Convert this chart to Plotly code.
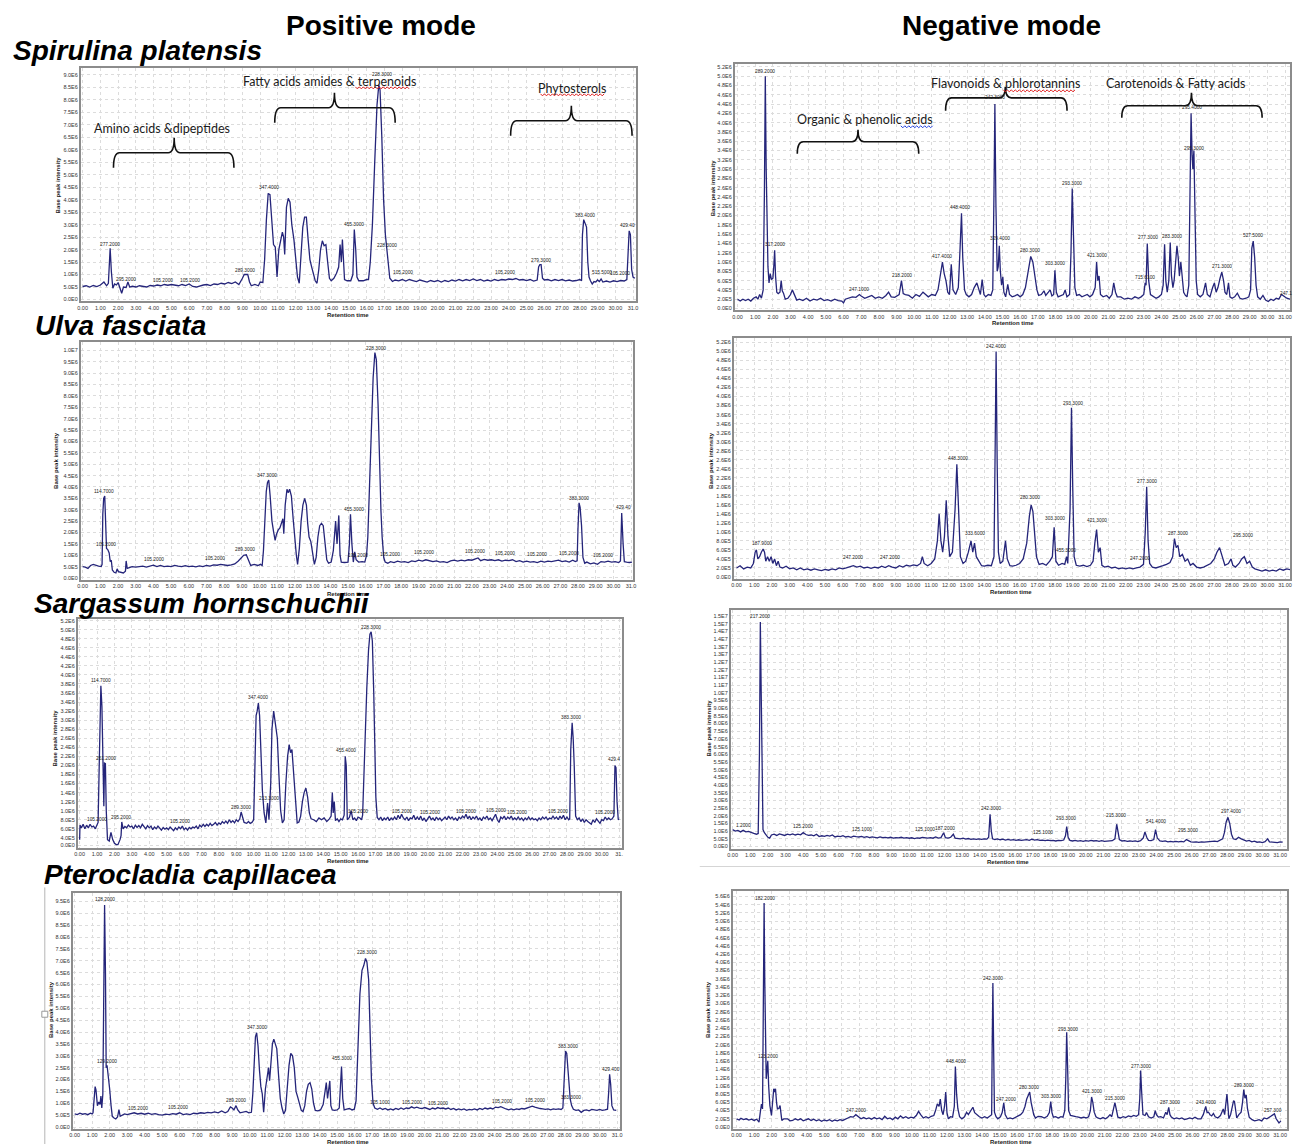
import plotly.graph_objects as go

W, H = 1293, 1145

# ---------------- DATA (retention time in min, base-peak intensity in units of 1e6) ----------------
SPIR_POS = [(0.0,0.52),(0.2,0.55),(0.4,0.5),(0.6,0.56),(0.8,0.52),(1.0,0.58),(1.2,0.7),(1.35,0.55),(1.45,0.65),(1.55,2.05),(1.62,1.1),(1.7,0.45),(1.8,0.62),(1.9,0.58),(2.0,0.68),(2.1,0.42),(2.2,0.25),(2.3,0.5),(2.45,0.48),(2.55,0.7),(2.65,0.5),(2.8,0.53),(3.0,0.5),(3.2,0.55),(3.4,0.52),(3.6,0.5),(3.8,0.56),(4.0,0.54),(4.2,0.58),(4.4,0.55),(4.6,0.6),(4.8,0.57),(5.0,0.6),(5.2,0.58),(5.4,0.55),(5.6,0.6),(5.8,0.56),(6.0,0.62),(6.2,0.52),(6.4,0.5),(6.6,0.55),(6.8,0.58),(7.0,0.6),(7.2,0.56),(7.4,0.62),(7.6,0.6),(7.8,0.65),(8.0,0.62),(8.2,0.68),(8.4,0.64),(8.6,0.7),(8.8,0.6),(9.0,0.85),(9.1,1.0),(9.3,1.0),(9.4,0.7),(9.5,0.55),(9.7,0.6),(9.9,0.55),(10.0,0.7),(10.15,0.68),(10.25,1.6),(10.35,3.2),(10.45,4.25),(10.55,4.2),(10.65,3.2),(10.75,2.2),(10.85,2.1),(10.95,0.9),(11.05,2.0),(11.15,2.3),(11.25,2.7),(11.32,2.5),(11.38,1.8),(11.48,3.7),(11.58,4.05),(11.68,3.9),(11.78,3.0),(11.9,2.4),(12.0,1.6),(12.1,0.9),(12.2,0.65),(12.3,1.8),(12.4,2.9),(12.5,3.3),(12.6,3.3),(12.7,2.4),(12.8,1.6),(12.9,1.3),(13.0,1.0),(13.1,0.75),(13.2,0.65),(13.3,1.2),(13.4,2.0),(13.5,2.35),(13.6,2.15),(13.7,2.2),(13.8,1.5),(13.9,0.85),(14.0,0.75),(14.15,0.85),(14.3,1.05),(14.42,1.3),(14.5,2.2),(14.57,1.5),(14.63,2.4),(14.7,1.5),(14.75,0.8),(14.9,0.75),(15.1,0.75),(15.22,1.0),(15.3,2.8),(15.38,2.0),(15.45,0.9),(15.55,0.75),(15.8,0.75),(16.0,0.8),(16.1,0.8),(16.2,1.5),(16.32,3.0),(16.45,5.5),(16.58,7.8),(16.68,8.6),(16.75,8.4),(16.85,6.5),(16.95,4.0),(17.05,2.6),(17.12,2.1),(17.22,1.2),(17.3,0.85),(17.45,0.72),(17.6,0.78),(17.8,0.75),(18.0,0.8),(18.2,0.74),(18.4,0.8),(18.6,0.76),(18.8,0.72),(19.0,0.78),(19.2,0.74),(19.4,0.7),(19.6,0.76),(19.8,0.72),(20.0,0.76),(20.2,0.7),(20.4,0.76),(20.6,0.72),(20.8,0.78),(21.0,0.74),(21.2,0.8),(21.4,0.75),(21.6,0.8),(21.8,0.76),(22.0,0.82),(22.2,0.76),(22.4,0.8),(22.6,0.74),(22.8,0.78),(23.0,0.74),(23.2,0.8),(23.4,0.76),(23.6,0.8),(23.8,0.78),(24.0,0.82),(24.2,0.8),(24.4,0.84),(24.6,0.78),(24.8,0.8),(25.0,0.76),(25.2,0.8),(25.4,0.74),(25.6,0.78),(25.68,1.3),(25.75,1.4),(25.82,1.4),(25.9,0.85),(26.0,0.78),(26.2,0.8),(26.4,0.75),(26.6,0.8),(26.8,0.76),(27.0,0.8),(27.2,0.75),(27.4,0.78),(27.6,0.74),(27.8,0.76),(28.0,0.8),(28.1,0.75),(28.15,2.6),(28.22,3.2),(28.3,3.0),(28.38,2.9),(28.45,1.5),(28.52,0.9),(28.6,0.75),(28.7,0.62),(28.8,0.72),(28.9,0.7),(29.0,0.78),(29.1,0.72),(29.2,0.82),(29.3,0.7),(29.5,0.74),(29.7,0.7),(29.9,0.75),(30.1,0.72),(30.3,0.76),(30.5,0.74),(30.65,0.8),(30.72,2.0),(30.78,2.75),(30.85,2.6),(30.92,1.2),(31.0,0.9),(31.1,0.85)]

SPIR_NEG = [(0.0,0.2),(0.15,0.16),(0.3,0.2),(0.45,0.17),(0.6,0.2),(0.75,0.16),(0.9,0.22),(1.05,0.25),(1.15,0.2),(1.25,0.3),(1.35,0.22),(1.45,0.4),(1.52,2.5),(1.57,5.0),(1.62,3.0),(1.68,1.5),(1.72,0.9),(1.78,0.55),(1.85,0.75),(1.92,0.62),(2.0,0.65),(2.05,0.9),(2.1,1.25),(2.15,0.7),(2.22,0.35),(2.3,0.32),(2.4,0.35),(2.47,0.6),(2.53,0.38),(2.6,0.33),(2.7,0.2),(2.85,0.22),(3.0,0.3),(3.1,0.4),(3.2,0.3),(3.35,0.18),(3.5,0.2),(3.7,0.17),(3.9,0.22),(4.1,0.16),(4.3,0.2),(4.5,0.18),(4.7,0.22),(4.9,0.17),(5.1,0.19),(5.3,0.16),(5.5,0.2),(5.7,0.17),(5.9,0.16),(6.0,0.12),(6.1,0.2),(6.3,0.22),(6.5,0.25),(6.7,0.24),(6.9,0.3),(7.0,0.27),(7.2,0.22),(7.4,0.25),(7.6,0.28),(7.8,0.22),(8.0,0.25),(8.2,0.22),(8.4,0.28),(8.55,0.35),(8.7,0.25),(8.9,0.24),(9.05,0.28),(9.15,0.3),(9.28,0.6),(9.38,0.32),(9.5,0.3),(9.7,0.28),(9.9,0.22),(10.1,0.3),(10.3,0.26),(10.5,0.35),(10.65,0.3),(10.8,0.25),(11.0,0.3),(11.2,0.28),(11.35,0.4),(11.5,0.75),(11.6,1.0),(11.7,0.75),(11.8,0.6),(11.9,0.35),(12.0,0.3),(12.1,0.95),(12.2,0.4),(12.35,0.3),(12.5,0.45),(12.6,1.3),(12.68,2.05),(12.75,1.1),(12.85,0.4),(12.95,0.3),(13.1,0.25),(13.25,0.3),(13.4,0.45),(13.55,0.55),(13.65,0.4),(13.75,0.3),(13.85,0.62),(13.95,0.3),(14.05,0.25),(14.2,0.3),(14.35,0.28),(14.45,0.4),(14.52,2.5),(14.57,4.4),(14.63,2.2),(14.7,0.8),(14.76,0.9),(14.82,1.35),(14.88,0.8),(14.95,0.5),(15.02,0.68),(15.08,0.35),(15.18,0.25),(15.3,0.52),(15.4,0.3),(15.55,0.25),(15.7,0.27),(15.85,0.3),(16.0,0.25),(16.15,0.3),(16.3,0.45),(16.45,0.8),(16.6,1.12),(16.72,1.0),(16.85,0.7),(16.95,0.4),(17.05,0.28),(17.2,0.3),(17.35,0.38),(17.45,0.28),(17.6,0.35),(17.7,0.4),(17.8,0.27),(17.9,0.3),(17.97,0.82),(18.05,0.35),(18.15,0.25),(18.3,0.28),(18.45,0.3),(18.55,0.4),(18.65,0.25),(18.8,0.3),(18.88,1.2),(18.95,2.58),(19.02,1.5),(19.1,0.45),(19.2,0.28),(19.35,0.3),(19.5,0.25),(19.65,0.28),(19.8,0.3),(19.95,0.25),(20.1,0.3),(20.25,0.45),(20.33,1.0),(20.4,0.6),(20.47,0.7),(20.55,0.3),(20.7,0.25),(20.9,0.28),(21.05,0.22),(21.2,0.3),(21.3,0.55),(21.4,0.35),(21.5,0.25),(21.7,0.25),(21.9,0.2),(22.1,0.22),(22.3,0.2),(22.5,0.25),(22.7,0.22),(22.85,0.25),(23.0,0.3),(23.08,0.55),(23.13,0.5),(23.2,1.4),(23.28,0.6),(23.38,0.3),(23.55,0.25),(23.7,0.22),(23.85,0.25),(24.0,0.3),(24.1,0.5),(24.18,1.38),(24.25,0.6),(24.33,0.35),(24.42,0.6),(24.5,1.42),(24.57,0.7),(24.65,0.45),(24.72,0.6),(24.8,1.0),(24.88,1.35),(24.95,1.1),(25.02,0.7),(25.1,1.0),(25.18,0.6),(25.26,0.35),(25.36,0.28),(25.45,0.25),(25.55,0.5),(25.62,2.5),(25.68,4.2),(25.74,3.3),(25.78,3.0),(25.84,3.4),(25.9,2.0),(25.97,0.6),(26.05,0.3),(26.2,0.25),(26.35,0.3),(26.5,0.55),(26.6,0.3),(26.75,0.25),(26.9,0.45),(27.0,0.55),(27.1,0.35),(27.2,0.45),(27.32,0.65),(27.42,0.78),(27.52,0.6),(27.6,0.35),(27.7,0.3),(27.8,0.55),(27.88,0.25),(28.0,0.22),(28.15,0.25),(28.3,0.33),(28.45,0.22),(28.6,0.2),(28.8,0.22),(28.95,0.25),(29.05,0.4),(29.12,1.3),(29.2,1.45),(29.28,1.1),(29.36,0.5),(29.45,0.25),(29.6,0.2),(29.75,0.28),(29.9,0.18),(30.05,0.15),(30.2,0.2),(30.35,0.17),(30.5,0.22),(30.65,0.2),(30.8,0.3),(30.95,0.25),(31.1,0.22),(31.3,0.2)]

ULVA_POS = [(0.0,0.5),(0.15,0.48),(0.3,0.42),(0.45,0.55),(0.6,0.6),(0.75,0.55),(0.9,0.52),(1.05,0.5),(1.1,0.6),(1.14,2.8),(1.19,3.5),(1.25,3.6),(1.3,2.6),(1.35,1.3),(1.42,1.25),(1.5,1.1),(1.56,0.72),(1.62,0.78),(1.68,0.35),(1.78,0.25),(1.88,0.22),(1.95,0.4),(2.02,0.28),(2.15,0.25),(2.3,0.22),(2.42,0.3),(2.46,0.75),(2.52,0.42),(2.65,0.45),(2.8,0.5),(3.0,0.48),(3.2,0.5),(3.4,0.52),(3.6,0.48),(3.8,0.52),(4.0,0.56),(4.2,0.5),(4.4,0.55),(4.6,0.5),(4.8,0.52),(5.0,0.5),(5.2,0.55),(5.4,0.52),(5.6,0.5),(5.8,0.54),(6.0,0.5),(6.2,0.52),(6.4,0.49),(6.6,0.53),(6.8,0.5),(7.0,0.55),(7.2,0.52),(7.4,0.58),(7.6,0.56),(7.8,0.6),(8.0,0.57),(8.2,0.55),(8.4,0.58),(8.6,0.62),(8.8,0.75),(8.95,0.9),(9.1,1.0),(9.25,1.02),(9.38,0.8),(9.5,0.55),(9.7,0.6),(9.9,0.55),(10.05,0.6),(10.15,0.55),(10.22,1.2),(10.3,2.8),(10.38,3.8),(10.45,4.2),(10.52,4.3),(10.6,3.6),(10.7,2.5),(10.8,2.0),(10.88,1.65),(10.95,1.9),(11.05,2.1),(11.15,2.2),(11.25,2.4),(11.32,2.6),(11.37,1.95),(11.45,3.2),(11.55,3.9),(11.62,3.75),(11.7,3.9),(11.8,3.6),(11.9,2.6),(12.0,1.6),(12.08,1.0),(12.15,0.6),(12.25,1.3),(12.35,2.5),(12.45,3.2),(12.55,3.5),(12.65,3.2),(12.72,2.4),(12.8,1.8),(12.9,1.6),(13.0,1.0),(13.1,0.6),(13.2,0.9),(13.3,1.8),(13.4,2.3),(13.5,2.4),(13.6,2.3),(13.7,1.6),(13.8,0.8),(13.9,0.65),(14.05,0.7),(14.17,1.2),(14.3,2.5),(14.38,1.5),(14.48,2.75),(14.55,1.0),(14.62,0.7),(14.8,0.68),(15.0,0.7),(15.08,1.5),(15.14,2.8),(15.22,1.5),(15.3,0.7),(15.38,1.15),(15.46,0.8),(15.6,0.7),(15.8,0.72),(15.95,0.7),(16.05,1.0),(16.12,1.8),(16.22,4.0),(16.32,6.6),(16.42,8.8),(16.52,9.9),(16.6,9.6),(16.7,7.6),(16.78,5.0),(16.86,3.0),(16.93,1.8),(17.02,0.9),(17.1,0.7),(17.25,0.65),(17.4,0.72),(17.6,0.68),(17.8,0.74),(18.0,0.7),(18.2,0.72),(18.4,0.68),(18.6,0.75),(18.8,0.72),(19.0,0.78),(19.2,0.74),(19.4,0.8),(19.6,0.76),(19.8,0.72),(20.0,0.75),(20.2,0.7),(20.4,0.72),(20.6,0.68),(20.8,0.75),(21.0,0.78),(21.2,0.74),(21.4,0.78),(21.6,0.75),(21.8,0.8),(22.0,0.78),(22.2,0.82),(22.35,0.88),(22.5,0.76),(22.7,0.82),(22.9,0.78),(23.1,0.8),(23.3,0.76),(23.5,0.8),(23.7,0.74),(23.9,0.78),(24.1,0.76),(24.3,0.8),(24.5,0.72),(24.7,0.76),(24.9,0.7),(25.1,0.74),(25.3,0.7),(25.5,0.72),(25.7,0.68),(25.9,0.74),(26.1,0.7),(26.3,0.74),(26.5,0.72),(26.7,0.76),(26.9,0.78),(27.1,0.72),(27.3,0.75),(27.5,0.7),(27.7,0.78),(27.85,0.72),(27.95,0.75),(28.0,2.2),(28.06,3.3),(28.12,3.1),(28.2,2.3),(28.28,0.9),(28.38,0.65),(28.5,0.7),(28.7,0.62),(28.9,0.66),(29.1,0.6),(29.3,0.72),(29.5,0.7),(29.7,0.74),(29.9,0.7),(30.1,0.72),(30.3,0.68),(30.4,0.75),(30.47,2.85),(30.55,1.5),(30.62,0.72),(30.75,0.7),(30.9,0.68),(31.05,0.7)]

ULVA_NEG = [(0.0,0.2),(0.2,0.25),(0.4,0.18),(0.6,0.22),(0.8,0.2),(0.95,0.3),(1.05,0.55),(1.12,0.6),(1.2,0.4),(1.3,0.45),(1.4,0.55),(1.5,0.62),(1.58,0.55),(1.65,0.35),(1.75,0.45),(1.85,0.35),(1.95,0.45),(2.05,0.3),(2.15,0.4),(2.25,0.25),(2.35,0.35),(2.45,0.22),(2.6,0.2),(2.8,0.24),(3.0,0.18),(3.2,0.2),(3.4,0.16),(3.6,0.2),(3.8,0.16),(4.0,0.18),(4.2,0.15),(4.4,0.18),(4.6,0.16),(4.8,0.14),(5.0,0.17),(5.2,0.15),(5.4,0.18),(5.6,0.16),(5.8,0.2),(6.0,0.18),(6.2,0.2),(6.4,0.22),(6.6,0.25),(6.8,0.22),(7.0,0.24),(7.2,0.2),(7.4,0.22),(7.6,0.19),(7.8,0.22),(8.0,0.2),(8.2,0.24),(8.4,0.21),(8.6,0.25),(8.8,0.22),(9.0,0.2),(9.2,0.25),(9.4,0.22),(9.6,0.26),(9.8,0.24),(10.0,0.27),(10.2,0.25),(10.4,0.3),(10.5,0.45),(10.6,0.3),(10.8,0.25),(11.0,0.3),(11.2,0.4),(11.35,0.8),(11.45,1.4),(11.55,0.8),(11.65,0.55),(11.75,0.9),(11.85,1.7),(11.95,0.9),(12.05,0.45),(12.2,0.55),(12.35,1.5),(12.45,2.5),(12.55,1.3),(12.65,0.45),(12.8,0.3),(12.95,0.35),(13.1,0.55),(13.25,0.8),(13.35,0.55),(13.45,0.75),(13.55,0.45),(13.7,0.35),(13.85,0.25),(14.0,0.24),(14.2,0.26),(14.4,0.25),(14.55,0.45),(14.62,3.0),(14.67,5.0),(14.73,2.5),(14.8,0.55),(14.9,0.3),(15.05,0.35),(15.2,0.8),(15.3,0.4),(15.45,0.25),(15.6,0.24),(15.8,0.26),(16.0,0.3),(16.2,0.4),(16.4,0.75),(16.55,1.35),(16.65,1.6),(16.75,1.45),(16.85,0.95),(16.95,0.45),(17.1,0.28),(17.3,0.3),(17.5,0.26),(17.7,0.35),(17.85,0.45),(17.95,1.1),(18.05,0.35),(18.2,0.26),(18.4,0.3),(18.55,0.28),(18.65,0.45),(18.72,0.3),(18.85,1.5),(18.93,3.75),(19.0,2.0),(19.08,0.45),(19.2,0.26),(19.4,0.24),(19.6,0.26),(19.8,0.23),(20.0,0.26),(20.15,0.35),(20.25,0.75),(20.35,1.05),(20.45,0.55),(20.55,0.65),(20.65,0.26),(20.8,0.22),(21.0,0.24),(21.2,0.2),(21.4,0.22),(21.6,0.18),(21.8,0.2),(22.0,0.18),(22.2,0.2),(22.4,0.18),(22.6,0.2),(22.8,0.22),(23.0,0.28),(23.1,1.0),(23.18,2.0),(23.26,0.8),(23.35,0.3),(23.5,0.22),(23.7,0.2),(23.9,0.22),(24.1,0.25),(24.3,0.28),(24.5,0.32),(24.65,0.45),(24.75,0.85),(24.85,0.65),(24.95,0.7),(25.05,0.45),(25.2,0.5),(25.35,0.35),(25.5,0.4),(25.65,0.26),(25.8,0.3),(26.0,0.22),(26.2,0.2),(26.4,0.22),(26.6,0.26),(26.8,0.3),(27.0,0.4),(27.15,0.55),(27.3,0.65),(27.45,0.45),(27.6,0.26),(27.8,0.3),(27.95,0.4),(28.05,0.26),(28.2,0.22),(28.4,0.3),(28.55,0.4),(28.7,0.45),(28.85,0.3),(29.0,0.35),(29.15,0.22),(29.3,0.18),(29.5,0.16),(29.7,0.13),(29.9,0.16),(30.1,0.13),(30.3,0.15),(30.5,0.13),(30.7,0.18),(30.9,0.15),(31.1,0.18),(31.3,0.16)]

SARG_POS = [(0.0,0.36),(0.02,0.68),(0.1,0.62),(0.2,0.7),(0.3,0.6),(0.4,0.68),(0.5,0.62),(0.6,0.7),(0.7,0.64),(0.8,0.66),(0.9,0.6),(1.0,0.72),(1.06,0.74),(1.12,1.9),(1.17,3.2),(1.22,3.76),(1.28,3.3),(1.34,2.0),(1.39,1.1),(1.43,2.05),(1.48,2.04),(1.53,1.0),(1.6,0.36),(1.7,0.33),(1.8,0.52),(1.9,0.36),(2.0,0.28),(2.1,0.25),(2.2,0.25),(2.32,0.36),(2.38,0.45),(2.42,0.75),(2.5,0.6),(2.6,0.65),(2.7,0.62),(2.8,0.68),(2.9,0.64),(3.0,0.66),(3.1,0.6),(3.2,0.68),(3.3,0.63),(3.4,0.67),(3.5,0.62),(3.6,0.7),(3.7,0.64),(3.8,0.6),(3.9,0.67),(4.0,0.62),(4.1,0.66),(4.2,0.58),(4.3,0.64),(4.4,0.6),(4.5,0.66),(4.6,0.6),(4.7,0.57),(4.8,0.63),(4.9,0.59),(5.0,0.62),(5.1,0.58),(5.2,0.64),(5.3,0.6),(5.4,0.56),(5.5,0.62),(5.6,0.58),(5.7,0.64),(5.8,0.6),(5.9,0.66),(6.0,0.58),(6.1,0.62),(6.2,0.57),(6.3,0.63),(6.4,0.6),(6.5,0.64),(6.6,0.62),(6.7,0.66),(6.8,0.6),(6.9,0.68),(7.0,0.64),(7.1,0.7),(7.2,0.65),(7.3,0.7),(7.4,0.66),(7.5,0.72),(7.6,0.67),(7.7,0.7),(7.8,0.74),(7.9,0.68),(8.0,0.73),(8.1,0.7),(8.2,0.76),(8.3,0.72),(8.4,0.77),(8.5,0.72),(8.6,0.8),(8.7,0.74),(8.8,0.78),(8.9,0.73),(9.0,0.8),(9.1,0.76),(9.2,0.82),(9.28,0.97),(9.35,0.85),(9.45,0.74),(9.6,0.72),(9.7,0.76),(9.8,0.72),(9.9,0.74),(10.0,0.8),(10.08,2.4),(10.14,3.1),(10.2,3.2),(10.27,3.38),(10.34,3.1),(10.42,2.2),(10.5,1.45),(10.6,0.95),(10.7,0.73),(10.8,1.17),(10.88,0.8),(10.98,1.6),(11.05,2.8),(11.15,3.2),(11.22,2.95),(11.3,2.8),(11.36,2.6),(11.45,1.8),(11.55,1.0),(11.65,0.73),(11.75,0.8),(11.85,1.6),(11.95,2.2),(12.04,2.46),(12.12,2.28),(12.2,2.35),(12.3,1.8),(12.4,1.1),(12.5,0.73),(12.6,0.75),(12.7,0.88),(12.8,1.2),(12.9,1.4),(13.0,1.5),(13.1,1.3),(13.2,0.95),(13.3,0.82),(13.45,0.8),(13.6,0.76),(13.75,0.84),(13.9,0.8),(14.05,0.84),(14.2,0.76),(14.35,0.82),(14.45,0.88),(14.52,1.4),(14.57,0.95),(14.63,1.2),(14.7,0.78),(14.8,0.82),(14.9,0.76),(15.0,0.82),(15.1,0.8),(15.2,0.9),(15.26,2.2),(15.32,2.0),(15.38,0.8),(15.5,0.85),(15.6,1.0),(15.7,0.8),(15.8,0.84),(15.9,0.78),(16.0,0.86),(16.1,0.84),(16.2,0.8),(16.26,0.9),(16.33,1.76),(16.42,3.0),(16.5,3.7),(16.6,4.55),(16.68,4.9),(16.75,4.95),(16.82,4.75),(16.9,3.6),(16.96,2.4),(17.02,1.3),(17.1,0.85),(17.2,0.8),(17.3,0.86),(17.4,0.78),(17.5,0.84),(17.6,0.8),(17.7,0.86),(17.8,0.78),(17.9,0.84),(18.0,0.8),(18.1,0.86),(18.2,0.8),(18.3,0.9),(18.4,0.82),(18.5,0.92),(18.6,0.84),(18.7,0.8),(18.8,0.86),(18.9,0.78),(19.0,0.84),(19.1,0.82),(19.2,0.9),(19.3,0.8),(19.4,0.86),(19.5,0.8),(19.6,0.88),(19.7,0.78),(19.8,0.84),(19.9,0.76),(20.0,0.82),(20.1,0.88),(20.2,0.8),(20.3,0.84),(20.4,0.78),(20.5,0.86),(20.6,0.8),(20.7,0.84),(20.8,0.78),(20.9,0.82),(21.0,0.86),(21.1,0.8),(21.2,0.88),(21.3,0.82),(21.4,0.86),(21.5,0.8),(21.6,0.84),(21.7,0.78),(21.8,0.86),(21.9,0.82),(22.0,0.88),(22.1,0.84),(22.2,0.92),(22.3,0.82),(22.4,0.88),(22.5,0.8),(22.6,0.86),(22.7,0.82),(22.8,0.88),(22.9,0.8),(23.0,0.84),(23.1,0.78),(23.2,0.86),(23.3,0.82),(23.4,0.88),(23.5,0.8),(23.6,0.84),(23.7,0.78),(23.8,0.86),(23.9,0.92),(24.0,0.8),(24.1,0.74),(24.2,0.86),(24.3,0.82),(24.4,0.88),(24.5,0.8),(24.6,0.86),(24.7,0.82),(24.8,0.88),(24.9,0.8),(25.0,0.84),(25.1,0.8),(25.2,0.86),(25.3,0.8),(25.4,0.84),(25.5,0.78),(25.6,0.84),(25.7,0.8),(25.8,0.86),(25.9,0.8),(26.0,0.84),(26.1,0.8),(26.2,0.82),(26.3,0.78),(26.4,0.84),(26.5,0.8),(26.6,0.86),(26.7,0.82),(26.8,0.86),(26.9,0.8),(27.0,0.84),(27.1,0.82),(27.2,0.88),(27.3,0.82),(27.4,0.86),(27.5,0.8),(27.6,0.88),(27.7,0.82),(27.8,0.9),(27.9,0.8),(28.0,0.86),(28.1,0.8),(28.16,0.82),(28.22,2.35),(28.3,2.94),(28.36,2.6),(28.42,2.0),(28.5,0.88),(28.6,0.8),(28.7,0.84),(28.8,0.76),(28.9,0.82),(29.0,0.74),(29.1,0.8),(29.2,0.76),(29.3,0.72),(29.4,0.7),(29.5,0.8),(29.6,0.74),(29.7,0.82),(29.8,0.76),(29.9,0.72),(30.0,0.8),(30.1,0.78),(30.2,0.86),(30.3,0.8),(30.4,0.84),(30.5,0.8),(30.6,0.82),(30.7,0.88),(30.76,2.0),(30.82,1.95),(30.88,1.2),(30.95,0.8),(31.0,0.82)]

SARG_NEG = [(0.0,1.1),(0.15,1.0),(0.3,1.05),(0.45,0.95),(0.6,1.05),(0.75,0.95),(0.9,0.98),(1.05,0.9),(1.2,0.85),(1.35,0.8),(1.45,0.85),(1.52,6.0),(1.57,14.6),(1.62,10.0),(1.67,3.0),(1.72,1.1),(1.8,0.9),(1.9,0.75),(2.0,0.6),(2.1,0.55),(2.2,0.75),(2.35,0.8),(2.5,0.72),(2.65,0.82),(2.8,0.78),(2.95,0.72),(3.1,0.8),(3.25,0.76),(3.4,0.82),(3.55,0.75),(3.7,0.8),(3.85,0.76),(4.0,0.9),(4.15,0.78),(4.3,0.72),(4.45,0.75),(4.6,0.7),(4.75,0.8),(4.9,0.65),(5.05,0.7),(5.2,0.66),(5.35,0.72),(5.5,0.68),(5.65,0.75),(5.8,0.62),(5.95,0.68),(6.1,0.64),(6.25,0.7),(6.4,0.62),(6.55,0.66),(6.7,0.6),(6.85,0.68),(7.0,0.64),(7.15,0.62),(7.3,0.66),(7.45,0.6),(7.6,0.64),(7.75,0.58),(7.9,0.62),(8.05,0.6),(8.2,0.56),(8.35,0.62),(8.5,0.58),(8.65,0.6),(8.8,0.56),(8.95,0.6),(9.1,0.55),(9.25,0.58),(9.4,0.56),(9.55,0.6),(9.7,0.55),(9.85,0.58),(10.0,0.54),(10.15,0.57),(10.3,0.52),(10.45,0.56),(10.6,0.54),(10.75,0.6),(10.9,0.58),(11.05,0.55),(11.2,0.58),(11.35,0.54),(11.5,0.62),(11.65,0.55),(11.8,0.58),(11.95,0.9),(12.05,0.58),(12.2,0.55),(12.35,0.6),(12.5,0.8),(12.6,0.55),(12.75,0.52),(12.9,0.5),(13.05,0.54),(13.2,0.48),(13.35,0.52),(13.5,0.47),(13.65,0.5),(13.8,0.46),(13.95,0.5),(14.1,0.47),(14.25,0.5),(14.4,0.48),(14.5,0.6),(14.58,2.1),(14.65,1.0),(14.72,0.5),(14.85,0.45),(15.0,0.5),(15.15,0.44),(15.3,0.48),(15.45,0.42),(15.6,0.46),(15.75,0.42),(15.9,0.45),(16.05,0.4),(16.2,0.44),(16.35,0.4),(16.5,0.42),(16.65,0.45),(16.8,0.4),(16.95,0.48),(17.1,0.42),(17.25,0.45),(17.4,0.4),(17.55,0.42),(17.7,0.38),(17.85,0.42),(18.0,0.38),(18.15,0.4),(18.3,0.36),(18.45,0.4),(18.6,0.38),(18.75,0.42),(18.85,0.7),(18.92,1.3),(19.0,0.6),(19.1,0.4),(19.25,0.36),(19.4,0.4),(19.55,0.35),(19.7,0.38),(19.85,0.34),(20.0,0.38),(20.15,0.35),(20.3,0.4),(20.45,0.36),(20.6,0.38),(20.75,0.34),(20.9,0.38),(21.05,0.34),(21.2,0.36),(21.35,0.4),(21.5,0.38),(21.65,0.5),(21.75,1.45),(21.82,1.0),(21.9,0.45),(22.05,0.36),(22.2,0.38),(22.35,0.34),(22.5,0.36),(22.65,0.33),(22.8,0.36),(22.95,0.32),(23.1,0.38),(23.25,0.55),(23.35,0.95),(23.45,0.6),(23.55,0.4),(23.7,0.38),(23.85,0.45),(23.95,1.1),(24.05,0.55),(24.2,0.36),(24.35,0.33),(24.5,0.36),(24.65,0.3),(24.8,0.34),(24.95,0.3),(25.1,0.33),(25.25,0.3),(25.4,0.34),(25.55,0.3),(25.7,0.45),(25.8,0.38),(25.95,0.3),(26.1,0.28),(26.25,0.3),(26.4,0.27),(26.55,0.3),(26.7,0.28),(26.85,0.3),(27.0,0.32),(27.15,0.3),(27.3,0.35),(27.45,0.32),(27.6,0.4),(27.75,0.5),(27.85,0.9),(27.95,1.6),(28.05,1.9),(28.15,1.5),(28.25,0.8),(28.35,0.5),(28.5,0.45),(28.65,0.6),(28.8,0.5),(28.95,0.4),(29.1,0.35),(29.25,0.4),(29.4,0.3),(29.55,0.35),(29.7,0.28),(29.85,0.3),(30.0,0.26),(30.15,0.32),(30.3,0.5),(30.4,0.3),(30.55,0.28),(30.7,0.3),(30.85,0.26),(31.0,0.3),(31.15,0.28)]

PTERO_POS = [(0.0,0.55),(0.15,0.52),(0.3,0.58),(0.45,0.54),(0.6,0.56),(0.75,0.52),(0.9,0.58),(1.0,0.55),(1.05,0.6),(1.12,1.6),(1.17,1.7),(1.22,1.55),(1.3,0.9),(1.38,1.05),(1.45,0.95),(1.5,1.3),(1.55,0.8),(1.61,1.38),(1.66,5.0),(1.71,9.35),(1.76,6.5),(1.8,2.5),(1.85,2.6),(1.92,2.2),(2.0,1.6),(2.08,0.9),(2.15,0.45),(2.25,0.38),(2.35,0.34),(2.45,0.42),(2.53,0.73),(2.6,0.45),(2.7,0.5),(2.85,0.55),(3.0,0.52),(3.2,0.56),(3.4,0.6),(3.6,0.55),(3.8,0.58),(4.0,0.54),(4.2,0.58),(4.4,0.53),(4.6,0.56),(4.8,0.52),(5.0,0.5),(5.2,0.54),(5.4,0.52),(5.6,0.56),(5.8,0.54),(6.0,0.6),(6.2,0.52),(6.4,0.55),(6.6,0.52),(6.8,0.58),(7.0,0.56),(7.2,0.6),(7.4,0.58),(7.6,0.62),(7.8,0.6),(8.0,0.64),(8.2,0.6),(8.4,0.68),(8.6,0.6),(8.75,0.65),(8.9,0.85),(9.0,0.8),(9.1,0.72),(9.22,0.9),(9.32,0.72),(9.45,0.6),(9.6,0.62),(9.8,0.66),(9.95,0.6),(10.1,0.62),(10.18,1.4),(10.26,2.8),(10.33,3.8),(10.4,3.97),(10.48,3.4),(10.56,2.4),(10.64,1.7),(10.72,1.4),(10.8,0.62),(10.9,1.6),(11.0,2.2),(11.08,2.5),(11.14,1.95),(11.22,2.9),(11.3,3.5),(11.38,3.7),(11.46,3.5),(11.55,3.3),(11.65,2.2),(11.75,1.2),(11.85,0.8),(11.95,0.55),(12.05,0.7),(12.15,1.8),(12.25,2.6),(12.35,3.1),(12.45,3.0),(12.55,2.5),(12.65,1.5),(12.75,1.25),(12.85,0.95),(12.95,0.7),(13.05,0.65),(13.15,0.9),(13.25,1.5),(13.35,1.8),(13.45,1.87),(13.55,1.6),(13.65,1.0),(13.75,0.7),(13.9,0.68),(14.05,0.72),(14.2,0.95),(14.3,1.4),(14.38,1.87),(14.45,1.2),(14.52,1.5),(14.58,1.94),(14.64,0.9),(14.72,0.72),(14.85,0.7),(15.0,0.72),(15.12,0.8),(15.2,2.3),(15.25,2.55),(15.32,1.2),(15.4,0.72),(15.55,0.75),(15.7,0.78),(15.85,0.72),(15.98,0.75),(16.08,1.1),(16.18,3.0),(16.3,5.6),(16.42,6.6),(16.52,6.8),(16.62,7.1),(16.7,6.95),(16.8,6.2),(16.88,4.3),(16.96,2.0),(17.05,1.0),(17.15,0.8),(17.3,0.75),(17.45,0.8),(17.6,0.74),(17.75,0.78),(17.9,0.72),(18.05,0.76),(18.2,0.72),(18.35,0.78),(18.5,0.74),(18.65,0.8),(18.8,0.75),(18.95,0.8),(19.1,0.78),(19.25,0.85),(19.4,0.8),(19.55,0.84),(19.7,0.8),(19.85,0.78),(20.0,0.82),(20.15,0.78),(20.3,0.74),(20.45,0.8),(20.6,0.76),(20.75,0.82),(20.9,0.78),(21.05,0.8),(21.2,0.76),(21.35,0.8),(21.5,0.74),(21.65,0.78),(21.8,0.72),(21.95,0.76),(22.1,0.72),(22.25,0.76),(22.4,0.7),(22.55,0.74),(22.7,0.72),(22.85,0.76),(23.0,0.72),(23.15,0.78),(23.3,0.74),(23.45,0.8),(23.6,0.76),(23.75,0.8),(23.9,0.76),(24.05,0.84),(24.2,0.82),(24.35,0.86),(24.5,0.8),(24.65,0.76),(24.8,0.72),(24.95,0.76),(25.1,0.72),(25.25,0.76),(25.4,0.74),(25.55,0.78),(25.7,0.76),(25.85,0.8),(26.0,0.82),(26.15,0.88),(26.3,0.84),(26.45,0.8),(26.6,0.78),(26.75,0.76),(26.9,0.74),(27.05,0.76),(27.2,0.72),(27.35,0.76),(27.5,0.74),(27.65,0.76),(27.8,0.74),(27.9,0.8),(27.98,2.0),(28.05,3.2),(28.12,3.1),(28.18,2.57),(28.25,1.8),(28.32,1.17),(28.4,0.9),(28.5,0.75),(28.65,0.7),(28.8,0.72),(28.95,0.62),(29.1,0.7),(29.25,0.72),(29.4,0.68),(29.55,0.74),(29.7,0.72),(29.85,0.7),(30.0,0.74),(30.15,0.7),(30.3,0.72),(30.45,0.75),(30.52,1.5),(30.57,2.22),(30.63,1.8),(30.7,0.9),(30.8,0.72),(30.95,0.7)]

PTERO_NEG = [(0.0,0.2),(0.15,0.17),(0.25,0.21),(0.4,0.18),(0.55,0.2),(0.7,0.17),(0.85,0.19),(1.0,0.16),(1.15,0.19),(1.28,0.12),(1.35,0.35),(1.42,0.56),(1.48,0.44),(1.53,2.5),(1.57,5.44),(1.61,3.5),(1.65,2.0),(1.69,1.17),(1.74,1.4),(1.78,1.61),(1.83,1.0),(1.9,0.52),(1.99,0.28),(2.06,0.6),(2.12,0.93),(2.17,0.85),(2.22,0.93),(2.28,0.6),(2.33,0.44),(2.41,0.45),(2.48,0.52),(2.58,0.16),(2.7,0.2),(2.9,0.2),(3.05,0.15),(3.2,0.16),(3.35,0.2),(3.5,0.17),(3.65,0.2),(3.8,0.15),(3.95,0.18),(4.1,0.2),(4.25,0.16),(4.4,0.19),(4.55,0.15),(4.7,0.18),(4.85,0.14),(5.0,0.17),(5.15,0.15),(5.3,0.18),(5.45,0.14),(5.6,0.17),(5.75,0.15),(5.9,0.18),(6.05,0.16),(6.2,0.2),(6.35,0.22),(6.5,0.25),(6.65,0.24),(6.8,0.3),(6.95,0.24),(7.1,0.2),(7.25,0.23),(7.4,0.2),(7.55,0.22),(7.7,0.19),(7.85,0.23),(8.0,0.2),(8.15,0.22),(8.3,0.18),(8.45,0.26),(8.6,0.2),(8.75,0.22),(8.9,0.18),(9.05,0.24),(9.2,0.2),(9.35,0.27),(9.5,0.22),(9.65,0.25),(9.8,0.21),(9.95,0.24),(10.1,0.22),(10.25,0.28),(10.38,0.38),(10.5,0.3),(10.65,0.22),(10.8,0.25),(10.95,0.22),(11.1,0.26),(11.25,0.28),(11.35,0.4),(11.45,0.56),(11.55,0.5),(11.62,0.68),(11.7,0.4),(11.78,0.3),(11.86,0.5),(11.93,0.85),(12.0,0.35),(12.08,0.2),(12.2,0.25),(12.32,0.24),(12.42,0.5),(12.48,1.47),(12.55,0.8),(12.62,0.45),(12.72,0.25),(12.85,0.2),(13.0,0.25),(13.12,0.36),(13.22,0.3),(13.35,0.38),(13.48,0.48),(13.58,0.35),(13.69,0.3),(13.85,0.25),(14.0,0.22),(14.15,0.25),(14.3,0.22),(14.45,0.27),(14.55,0.3),(14.58,2.0),(14.62,3.5),(14.66,2.0),(14.71,0.36),(14.8,0.25),(14.9,0.2),(15.05,0.25),(15.15,0.35),(15.24,0.59),(15.32,0.3),(15.45,0.2),(15.6,0.22),(15.75,0.2),(15.91,0.24),(16.05,0.27),(16.2,0.3),(16.33,0.36),(16.45,0.5),(16.55,0.68),(16.64,0.8),(16.72,0.85),(16.8,0.6),(16.86,0.45),(16.95,0.3),(17.05,0.22),(17.2,0.26),(17.39,0.25),(17.55,0.22),(17.72,0.26),(17.84,0.35),(17.92,0.62),(17.99,0.35),(18.07,0.24),(18.2,0.25),(18.35,0.22),(18.5,0.25),(18.62,0.24),(18.72,0.4),(18.78,1.2),(18.83,2.3),(18.88,1.5),(18.94,0.4),(19.05,0.28),(19.2,0.26),(19.35,0.25),(19.5,0.24),(19.65,0.22),(19.8,0.24),(19.93,0.22),(20.08,0.25),(20.18,0.4),(20.25,0.73),(20.32,0.6),(20.4,0.36),(20.5,0.25),(20.6,0.22),(20.75,0.2),(20.9,0.23),(21.05,0.2),(21.2,0.25),(21.3,0.3),(21.4,0.25),(21.52,0.52),(21.58,0.59),(21.65,0.45),(21.75,0.24),(21.9,0.22),(22.05,0.25),(22.2,0.23),(22.35,0.27),(22.5,0.25),(22.65,0.28),(22.8,0.26),(22.93,0.3),(23.0,0.7),(23.05,1.37),(23.1,0.9),(23.18,0.3),(23.3,0.28),(23.38,0.35),(23.5,0.25),(23.65,0.22),(23.8,0.25),(23.88,0.4),(23.95,0.3),(24.06,0.24),(24.2,0.25),(24.35,0.22),(24.48,0.36),(24.56,0.3),(24.65,0.48),(24.72,0.3),(24.8,0.24),(24.95,0.2),(25.1,0.22),(25.25,0.2),(25.4,0.22),(25.55,0.18),(25.7,0.2),(25.85,0.22),(26.0,0.2),(26.15,0.24),(26.3,0.2),(26.49,0.2),(26.62,0.3),(26.7,0.45),(26.76,0.5),(26.84,0.35),(26.92,0.36),(27.0,0.3),(27.1,0.27),(27.2,0.33),(27.3,0.25),(27.45,0.22),(27.6,0.28),(27.7,0.38),(27.76,0.44),(27.84,0.3),(27.92,0.6),(27.97,0.8),(28.03,0.5),(28.08,0.2),(28.18,0.3),(28.29,0.52),(28.35,0.64),(28.4,0.62),(28.46,0.35),(28.53,0.22),(28.65,0.3),(28.78,0.36),(28.86,0.6),(28.93,0.91),(29.0,0.7),(29.07,0.78),(29.14,0.45),(29.24,0.24),(29.4,0.18),(29.55,0.15),(29.67,0.16),(29.8,0.18),(29.95,0.15),(30.09,0.22),(30.25,0.2),(30.4,0.24),(30.51,0.27),(30.6,0.3),(30.68,0.32),(30.78,0.2),(30.86,0.15),(30.94,0.1),(31.05,0.15)]

# peak m/z labels: (text, retention time, intensity 1e6)
SPIR_POS_LABELS = [("277.2000",1.55,2.2),("295.2000",2.45,0.82),("105.2000",4.55,0.78),("105.2000",6.05,0.78),("289.3000",9.12,1.17),("347.4000",10.52,4.47),("455.3000",15.3,3.0),("228.3000",16.85,9.0),("228.3000",17.15,2.16),("105.2000",18.05,1.07),("105.2000",23.8,1.07),("279.3000",25.8,1.57),("383.4000",28.3,3.37),("515.5000",29.24,1.09),("105.2000",30.27,1.06),("429.40",30.66,2.97)]
SPIR_NEG_LABELS = [("289.2000",1.56,5.1),("317.2000",2.1,1.38),("247.1000",6.9,0.41),("218.2000",9.3,0.72),("417.4000",11.55,1.11),("448.4000",12.6,2.17),("242.3000",14.6,4.55),("329.4000",14.85,1.5),("280.3000",16.55,1.25),("303.3000",17.95,0.97),("293.3000",18.95,2.7),("421.3000",20.35,1.15),("715.6100",23.05,0.66),("277.3000",23.25,1.53),("283.3000",24.6,1.55),("295.4000",25.75,4.32),("295.3000",25.85,3.45),("271.3000",27.45,0.9),("527.5000",29.2,1.57),("247.1",31.05,0.32)]
ULVA_POS_LABELS = [("114.7000",1.18,3.79),("105.2000",1.31,1.48),("105.2000",4.02,0.82),("105.2000",7.48,0.86),("289.3000",9.16,1.27),("347.3000",10.41,4.49),("455.3000",15.36,3.01),("105.2000",15.55,0.98),("228.3000",16.6,10.1),("105.2000",17.35,1.04),("105.2000",19.3,1.11),("105.2000",22.2,1.15),("105.2000",23.85,1.08),("105.2000",25.7,1.05),("105.2000",27.5,1.08),("383.3000",28.05,3.49),("105.2000",29.4,1.0),("429.40",30.55,3.1)]
ULVA_NEG_LABELS = [("187.9000",1.46,0.75),("247.2000",6.6,0.44),("247.2000",8.7,0.44),("448.3000",12.5,2.62),("333.6000",13.5,0.97),("242.4000",14.65,5.1),("280.3000",16.6,1.77),("303.3000",18.0,1.3),("455.3000",18.6,0.58),("293.3000",19.0,3.85),("421.3000",20.4,1.25),("247.2000",22.8,0.4),("277.3000",23.2,2.12),("287.3000",24.95,0.97),("295.3000",28.65,0.93)]
SARG_POS_LABELS = [("105.2000",1.02,0.8),("114.7000",1.2,3.87),("261.2000",1.5,2.15),("295.2000",2.4,0.86),("105.2000",5.74,0.77),("289.3000",9.3,1.08),("347.4000",10.25,3.49),("213.3000",10.9,1.26),("455.4000",15.33,2.34),("105.2000",15.98,0.99),("228.3000",16.75,5.05),("105.2000",18.5,0.99),("105.2000",20.11,0.97),("105.2000",22.2,0.99),("105.2000",23.9,1.0),("105.2000",25.13,0.95),("105.2000",27.46,0.99),("383.3000",28.26,3.05),("105.2000",30.19,0.97),("429.4",30.72,2.13)]
SARG_NEG_LABELS = [("217.2000",1.58,14.95),("125.2000",3.99,1.27),("125.1000",7.33,1.12),("125.1000",10.89,1.08),("187.2000",12.02,1.17),("242.3000",14.62,2.48),("125.1000",17.6,0.9),("293.3000",18.9,1.8),("215.3000",21.7,2.0),("541.4000",24.0,1.6),("295.3000",25.8,1.05),("297.4000",28.2,2.3)]
PTERO_POS_LABELS = [("128.2000",1.72,9.57),("129.2000",1.85,2.78),("105.2000",3.6,0.78),("105.2000",5.9,0.82),("289.2000",9.2,1.12),("347.3000",10.4,4.17),("455.3000",15.27,2.88),("228.3000",16.7,7.33),("105.1000",17.45,1.03),("105.2000",19.25,1.05),("105.2000",20.75,1.0),("105.2000",24.4,1.07),("105.2000",26.3,1.12),("383.3000",28.17,3.37),("383.3000",28.34,1.23),("429.400",30.66,2.43)]
PTERO_NEG_LABELS = [("182.2000",1.6,5.56),("123.2000",1.78,1.71),("247.2000",6.8,0.4),("448.4000",12.5,1.59),("242.3000",14.6,3.6),("247.2000",15.35,0.68),("280.3000",16.7,0.97),("303.3000",17.92,0.75),("293.3000",18.88,2.38),("421.3000",20.3,0.86),("215.3000",21.6,0.7),("277.3000",23.05,1.47),("287.3000",24.7,0.6),("243.4000",26.75,0.6),("289.3000",28.93,1.02),("257.300",30.6,0.4)]

# tick labels
X_TICK_TEXT = ["0.00","1.00","2.00","3.00","4.00","5.00","6.00","7.00","8.00","9.00","10.00","11.00","12.00","13.00","14.00","15.00","16.00","17.00","18.00","19.00","20.00","21.00","22.00","23.00","24.00","25.00","26.00","27.00","28.00","29.00","30.00","31.00"]
Y_HALF_TEXT = ["0.0E0","5.0E5","1.0E6","1.5E6","2.0E6","2.5E6","3.0E6","3.5E6","4.0E6","4.5E6","5.0E6","5.5E6","6.0E6","6.5E6","7.0E6","7.5E6","8.0E6","8.5E6","9.0E6","9.5E6","1.0E7","1.1E7","1.1E7","1.2E7","1.2E7","1.3E7","1.3E7","1.4E7","1.4E7","1.5E7","1.5E7"]
Y_FIFTH_TEXT = ["0.0E0","2.0E5","4.0E5","6.0E5","8.0E5","1.0E6","1.2E6","1.4E6","1.6E6","1.8E6","2.0E6","2.2E6","2.4E6","2.6E6","2.8E6","3.0E6","3.2E6","3.4E6","3.6E6","3.8E6","4.0E6","4.2E6","4.4E6","4.6E6","4.8E6","5.0E6","5.2E6","5.4E6","5.6E6"]

SPECIES = ["Spirulina platensis", "Ulva fasciata", "Sargassum hornschuchii", "Pterocladia capillacea"]
MODES = ["Positive mode", "Negative mode"]
CLASS_LABELS = ["Amino acids &dipeptides", "Fatty acids amides & terpenoids", "Phytosterols",
                "Organic & phenolic acids", "Flavonoids & phlorotannins", "Carotenoids & Fatty acids"]

# ---------------- helpers ----------------
def PX(x):
    return x / W

def PY(y):
    return 1 - y / H

def half_ticks(n):
    return [i * 0.5 for i in range(n)], Y_HALF_TEXT[:n]

def fifth_ticks(n):
    return [i * 0.2 for i in range(n)], Y_FIFTH_TEXT[:n]

sarg_pos_vals = [0.23] + [0.4 + i * 0.2 for i in range(25)]
sarg_pos_text = ["0.0E0"] + Y_FIFTH_TEXT[2:27]

# geometry in pixels: x0/x31 = pixel of t=0 / t=31; box l,r,t,b; y anchors (value, pixel)
PANELS = [
    dict(data=SPIR_POS, labels=SPIR_POS_LABELS, x0=80, x31=633, l=78, r=636, t=67, b=301, ya=(0, 299), yb=(9.0, 74),
         ticks=half_ticks(19), ytitle=(55, 184), xtitle=(347, 315), last="31.0"),
    dict(data=SPIR_NEG, labels=SPIR_NEG_LABELS, x0=738, x31=1288, l=735, r=1293, t=63, b=310, ya=(0, 308), yb=(5.2, 66),
         ticks=fifth_ticks(27), ytitle=(713, 187), xtitle=(1015, 323), last="31.00"),
    dict(data=ULVA_POS, labels=ULVA_POS_LABELS, x0=80, x31=631, l=78, r=633, t=342, b=580, ya=(0, 578), yb=(10.0, 350),
         ticks=half_ticks(21), ytitle=(53, 460), xtitle=(347, 594), last="31.0"),
    dict(data=ULVA_NEG, labels=ULVA_NEG_LABELS, x0=737, x31=1288, l=734, r=1293, t=338, b=579, ya=(0, 577), yb=(5.2, 342),
         ticks=fifth_ticks(27), ytitle=(712, 460), xtitle=(1013, 592), last="31.00"),
    dict(data=SARG_POS, labels=SARG_POS_LABELS, x0=77, x31=619, l=75, r=622, t=619, b=848, ya=(0.4, 838.3), yb=(5.2, 620.7),
         ticks=(sarg_pos_vals, sarg_pos_text), ytitle=(52, 738), xtitle=(347, 862), last="31."),
    dict(data=SARG_NEG, labels=SARG_NEG_LABELS, x0=733, x31=1283, l=731, r=1290, t=610, b=849, ya=(0, 847), yb=(15.0, 616),
         ticks=half_ticks(31), ytitle=(709, 728), xtitle=(1010, 863), last="31.00"),
    dict(data=PTERO_POS, labels=PTERO_POS_LABELS, x0=72, x31=617, l=70, r=620, t=894, b=1130, ya=(0, 1128), yb=(9.5, 902),
         ticks=half_ticks(20), ytitle=(48, 1010), xtitle=(347, 1143), last="31.0"),
    dict(data=PTERO_NEG, labels=PTERO_NEG_LABELS, x0=737, x31=1283, l=733, r=1290, t=892, b=1130, ya=(0, 1128), yb=(5.6, 897),
         ticks=fifth_ticks(29), ytitle=(709, 1010), xtitle=(1013, 1143), last="31.00"),
]

LINE_COLOR = "#25257a"
TICK_FONT = dict(family="Liberation Sans, Arial, sans-serif", size=5.5, color="#333333")
PEAK_FONT = dict(family="Liberation Sans, Arial, sans-serif", size=4.8, color="#222222")
TITLE_SMALL = dict(family="Liberation Sans, Arial, sans-serif", size=6, color="#222222")

fig = go.Figure()
annotations = []
shapes = []
layout_axes = {}

for n, p in enumerate(PANELS, start=1):
    kx = (p["x31"] - p["x0"]) / 31.0
    xr = [(p["l"] - p["x0"]) / kx, (p["r"] - p["x0"]) / kx]
    (va, pa), (vb, pb) = p["ya"], p["yb"]
    ky = (pa - pb) / (vb - va)
    yr = [va + (pa - p["b"]) / ky, va + (pa - p["t"]) / ky]
    xs = "" if n == 1 else str(n)
    tvals, ttext = p["ticks"]
    xtext = X_TICK_TEXT[:31] + [p["last"]]
    layout_axes["xaxis" + xs] = dict(
        domain=[PX(p["l"]), PX(p["r"])], range=xr, anchor="y" + xs,
        tickmode="array", tickvals=list(range(32)), ticktext=xtext,
        tickfont=TICK_FONT, ticks="",
        showgrid=True, gridcolor="#dcdcdc", griddash="dot", gridwidth=1,
        showline=True, linecolor="#8c8c8c", linewidth=1.5, mirror=True, zeroline=False,
        fixedrange=True)
    layout_axes["yaxis" + xs] = dict(
        domain=[PY(p["b"]), PY(p["t"])], range=yr, anchor="x" + xs,
        tickmode="array", tickvals=tvals, ticktext=ttext,
        tickfont=TICK_FONT, ticks="",
        showgrid=True, gridcolor="#dcdcdc", griddash="dot", gridwidth=1,
        showline=True, linecolor="#8c8c8c", linewidth=1.5, mirror=True, zeroline=False,
        fixedrange=True)
    t, v = zip(*p["data"])
    fig.add_trace(go.Scatter(x=list(t), y=list(v), mode="lines", xaxis="x" + xs, yaxis="y" + xs,
                             line=dict(color=LINE_COLOR, width=1.3), showlegend=False, hoverinfo="skip"))
    for (txt, lx, ly) in p["labels"]:
        annotations.append(dict(text=txt, x=lx, y=ly, xref="x" + xs, yref="y" + xs, showarrow=False,
                                font=PEAK_FONT, xanchor="center", yanchor="middle"))
    annotations.append(dict(text="<b>Base peak intensity</b>", x=PX(p["ytitle"][0]), y=PY(p["ytitle"][1]),
                            xref="paper", yref="paper", showarrow=False, textangle=-90, font=TITLE_SMALL,
                            xanchor="center", yanchor="middle"))
    annotations.append(dict(text="<b>Retention time</b>", x=PX(p["xtitle"][0]), y=PY(p["xtitle"][1]),
                            xref="paper", yref="paper", showarrow=False, font=TITLE_SMALL,
                            xanchor="center", yanchor="middle"))

# R3 clipped left label
annotations.append(dict(text="1.2000", x=PX(734), y=PY(826), xref="paper", yref="paper", showarrow=False,
                        font=PEAK_FONT, xanchor="left", yanchor="middle"))

# big titles
BIG = dict(family="Liberation Sans, Arial, sans-serif", size=28, color="#000000")
for txt, cx in zip(MODES, [380, 1003]):
    annotations.append(dict(text="<b>" + txt + "</b>", x=PX(cx), y=PY(25), xref="paper", yref="paper",
                            showarrow=False, font=BIG, xanchor="center", yanchor="middle"))
for txt, (lx, ly) in zip(SPECIES, [(8, 50), (30, 325), (29, 604), (39, 875)]):
    annotations.append(dict(text="<b><i>" + txt + "</i></b>", x=PX(lx), y=PY(ly), xref="paper", yref="paper",
                            showarrow=False, font=BIG, xanchor="left", yanchor="middle"))

# class braces
BRACES = [  # xl, xr, xc, ybar, yend, ypeak, text x, text y
    (111, 232, 172, 152, 167, 137, 160, 128),
    (273, 394, 333, 107, 122, 92, 328, 81),
    (510, 632, 571, 120, 135, 105, 572, 88),
    (798, 920, 859, 141, 153, 129, 866, 119),
    (947, 1069, 1007, 97, 110, 86, 1007, 83),
    (1124, 1265, 1194, 105, 117, 92, 1178, 83),
]
CLASS_FONT = dict(family="Lato, Open Sans, sans-serif", size=12.5, color="#1a1a1a")
for (xl, xr_, xc, yb_, ye, yp, tx, ty), txt in zip(BRACES, CLASS_LABELS):
    path = (f"M {PX(xl)},{PY(ye)} Q {PX(xl)},{PY(yb_)} {PX(xl+6)},{PY(yb_)} "
            f"L {PX(xc-6)},{PY(yb_)} Q {PX(xc)},{PY(yb_)} {PX(xc)},{PY(yp)} "
            f"Q {PX(xc)},{PY(yb_)} {PX(xc+6)},{PY(yb_)} L {PX(xr_-6)},{PY(yb_)} "
            f"Q {PX(xr_)},{PY(yb_)} {PX(xr_)},{PY(ye)}")
    shapes.append(dict(type="path", path=path, xref="paper", yref="paper",
                       line=dict(color="#111111", width=1.6)))
    annotations.append(dict(text=txt, x=PX(tx), y=PY(ty), xref="paper", yref="paper", showarrow=False,
                            font=CLASS_FONT, xanchor="center", yanchor="middle"))

# spell-check style wavy underlines
def wavy(x1, x2, y, color):
    pts = []
    x = x1
    k = 0
    while x <= x2:
        pts.append((x, y + (1 if k % 2 else -1)))
        x += 2
        k += 1
    d = "M " + " L ".join(f"{PX(a)},{PY(b)}" for a, b in pts)
    return dict(type="path", path=d, xref="paper", yref="paper", line=dict(color=color, width=1))

shapes.append(wavy(354, 409, 87, "#e02020"))
shapes.append(wavy(540, 604, 94, "#e02020"))
shapes.append(wavy(1005, 1078, 90, "#e02020"))
shapes.append(wavy(902, 934, 126, "#2040e0"))

# stray frame marks of the original figure
shapes.append(dict(type="line", x0=PX(42), x1=PX(42), y0=PY(888), y1=PY(1145), xref="paper", yref="paper",
                   line=dict(color="#b5b5b5", width=1)))
shapes.append(dict(type="rect", x0=PX(39), x1=PX(45), y0=PY(1012), y1=PY(1018), xref="paper", yref="paper",
                   line=dict(color="#999999", width=1), fillcolor="white"))
shapes.append(dict(type="line", x0=PX(700), x1=PX(1293), y0=PY(867), y1=PY(867), xref="paper", yref="paper",
                   line=dict(color="#d5d5d5", width=1)))

fig.update_layout(
    width=W, height=H, margin=dict(l=0, r=0, t=0, b=0),
    paper_bgcolor="white", plot_bgcolor="white",
    showlegend=False, annotations=annotations, shapes=shapes,
    **layout_axes,
)

fig.write_html("out.html", config={"displayModeBar": False})
